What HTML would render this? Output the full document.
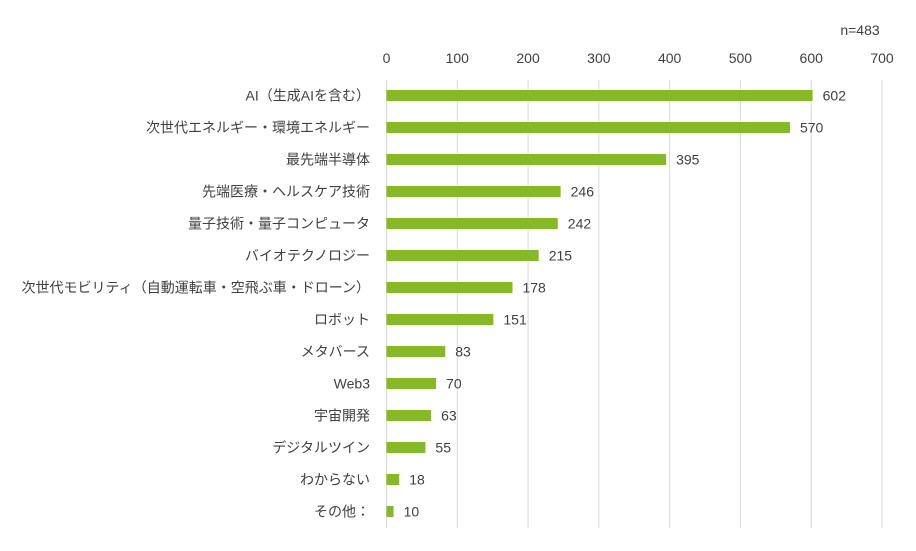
<!DOCTYPE html>
<html><head><meta charset="utf-8"><style>
body{margin:0;background:#fff;}
svg text{font-family:"Liberation Sans","Noto Sans CJK JP",sans-serif;fill:#404040;}
</style></head><body>
<svg width="916" height="546" xmlns="http://www.w3.org/2000/svg">
<text x="860" y="35" font-size="14" text-anchor="middle">n=483</text>
<g id="grid"></g><g id="ticks"></g><g id="bars"></g>
</svg>
<script>
const categories=["AI（生成AIを含む）","次世代エネルギー・環境エネルギー","最先端半導体","先端医療・ヘルスケア技術","量子技術・量子コンピュータ","バイオテクノロジー","次世代モビリティ（自動運転車・空飛ぶ車・ドローン）","ロボット","メタバース","Web3","宇宙開発","デジタルツイン","わからない","その他："];
const values=[602,570,395,246,242,215,178,151,83,70,63,55,18,10];
const tickLabels=[0,100,200,300,400,500,600,700];
const NS="http://www.w3.org/2000/svg";
const x0=386.5,x1=882,maxV=700;
const xs=v=>x0+(x1-x0)*v/maxV;
const y0=95.5,step=32;
const ys=i=>y0+i*step;
function mk(t,a,p){const e=document.createElementNS(NS,t);for(const k in a)e.setAttribute(k,a[k]);p.appendChild(e);return e;}
const grid=document.getElementById('grid'),ticks=document.getElementById('ticks'),bars=document.getElementById('bars');
tickLabels.forEach(t=>{
  const l=mk('line',{x1:xs(t),x2:xs(t),y1:80,y2:528,stroke:'#d9d9d9','stroke-width':1},grid);
  
  
  const tx=mk('text',{x:xs(t),y:63,'font-size':14,'text-anchor':'middle'},ticks);
  tx.textContent=t;
  
  
});
categories.forEach((c,i)=>{
  const y=ys(i);
  const lb=mk('text',{x:370,y:y+5,'font-size':14,'text-anchor':'end'},bars);
  lb.textContent=c;
  
  
  const r=mk('rect',{x:x0,y:y-5.5,width:xs(values[i])-x0,height:11,fill:'#86b92a'},bars);
  
  
  const v=mk('text',{x:xs(values[i])+10,y:y+5,'font-size':14},bars);
  v.textContent=values[i];
  
  
});
</script>
</body></html>
